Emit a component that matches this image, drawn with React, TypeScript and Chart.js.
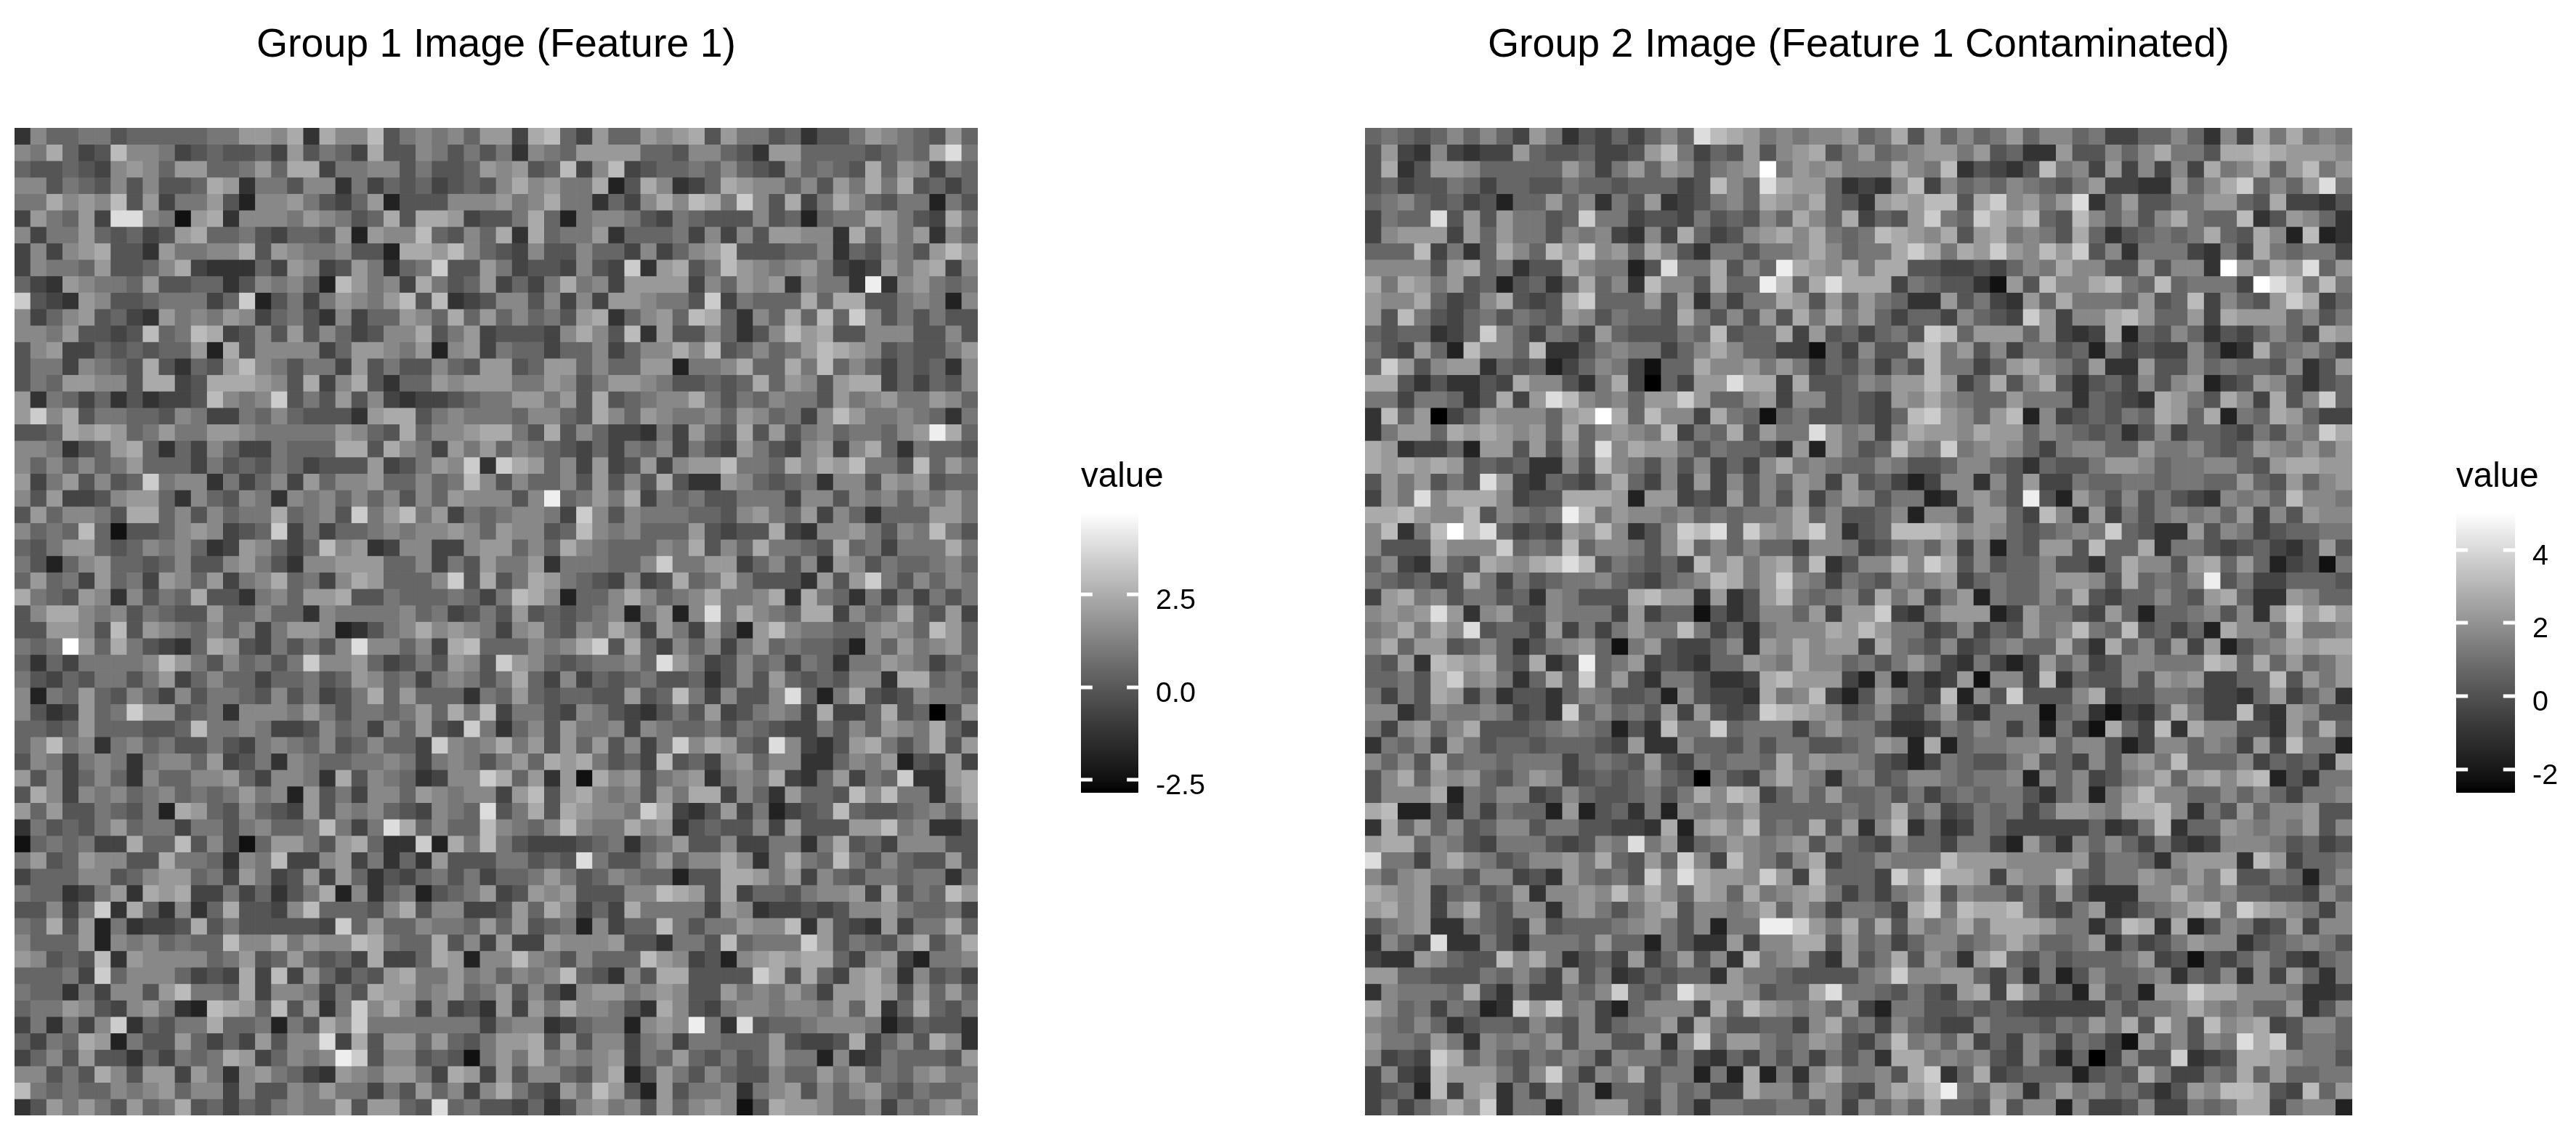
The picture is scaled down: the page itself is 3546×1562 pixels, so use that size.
import React, { useEffect, useRef } from "react";
import { Chart, registerables } from "chart.js";

Chart.register(...registerables);

// Grey level per cell: one hex digit, 0 = black, f = white.
const group1TopLeft = [
"38667756666677998a3a88b5787869","87a645b887456556495764a5587575","65565489869966796aa47788575569","885765858556a93775883746564565","77a898b59477952889754692555888","497694dd8719a3888798756a5aa945",
"84779656459a6675466592988b6586","48489a55397788a598778552aa9b86","4877695568a433364984597367c559","64398776955663587862b9784a7569","c5439855677746c257479879b5b345","846895643978798467538466986a69",
"88795545b67ba458595864588a5794","5894465656692a5888846998792894","57748765a53659b875774957558659","57699885aa45aaa985a48a53669899","937646353445b878c5759584344567","9c8a5776658744768655539aa57877",
"556a9a967977998777779865a6889a","8873569a636486447666aa5a874979","8686867966647565764555945798c3","94795856c7883746849688966867b8","859445899638658738786868586988","5968875aa6858677a6785c79b79476",
"8676b61556898456c4746678788986","6579965687863498646b8934884489","752689665685589753889996684759","6967496749869478a6748a96668c5a","a7659838576a55378699a557666764","58aa87857655966866387777867457",
];
const group1TopRight = [
"94ab64966989a59775635579876596","738769999665886539966665676ad7","8956b48b456676865486765a698476","8a8977a25a8346a98868597a7a5646","978a773648a8ba7c85a47a86577275","57a62788754765558562677a9754a7",
"a3a6779366674848599883a6979386","54855866484689b5556683658759b9","74554854c39a57b987897434979a48","4647a784999948698938773e389767","8858484998775c47666a6aa5578728","686759a36896ba6386a6b6c8575755",
"55548a85b395586358b9a558885585","76646684688a8b568679ba98565579","956996866992778a66a7b686465638","9779857998755656a69859aa464658","799795a56788a75768775978977986","768865a86987786986748b97787637",
"a75a58644374965a59578677689ea6","68765464768475497548948a637665","ca968494594899b776a8a9b775b697","5866859585a5339865673885989566","858e6797a476755777488587868797","78874c858777665897694863666997",
"98856b87866695455a438897587b75","9686a8766687a586a7765a674777a7","7793777668c7799468583985766786","57a97654845a67a75553959c758687","7ba82668a8678a778a3a7637474757","5956567827928d7a876aa4867a6594",
];
const group1BottomLeft = [
"559985b598768684799823578a8987","767f96a75436a95475758d88684ab6","636477778b97586757c88964575985","754657757946866466756986747875","8276965864857765857457a6966637","8534967c9956738887975776796a7b",
"66569666556b7787445867486954c7","68b78378675575478768568664c878","587478737886945738766778747875","95846863866889648873a58763488c","5a8487867867679782957488698788","9695576572a965865495878654876d",
"3756579677477578667b747da6866b","1676744a66b5851699759a633c2a7b","795698855a776387b4489473639555","466688568996749745949635467574","76634793a9a44746357a2836725679","55847c3a63836a5548b66658a58844",
"76a59273445a57555554c696687769","8666928786766b88a7988ba766a584","98565b3988886795696564a446a928","66674c68886454a4b4964659a77978","7663748859b776a4887475a9978967","677985489732ba96b5937c8a848453",
"473748c36577a667275a8c77777774","6476a92755964649588d4a59969657","4685955364767a946878ec58856517","88575a859949738976439879974a94","b76766878968848558797747596848","3597975967a564657877a59965d675",
];
const group1BottomRight = [
"4896587a849749629b877668986b96","66878ac5a648684796766528697896","c986567786d9745867476377987467","7a64846567556358596565883aa675","69656655956b748558d627a5458776","47754875435759457874a446a56059",
"368597784876675765447586987a64","a7959695847c8a965d84359a757a59","796a9a7564b5648968833687925494","a69391a8957893787a4369476c339a","49b59a878597aa48639665b8b7738a","57a5a9887ca4359472456b65567869",
"8768b877a893565584955599b78335","754445673679558447737a56488855","77565d75579688a837a76b75865595","66797568766255aa97948657767737","4598955588ba95a466578894a576b9","596a8464a777749834454588976674",
"6956728466b7577988b395439477a6","94498889553775b6777c957658a57a","8b8758666b9845289a9aa648942778","6878b65385aa5555ca5a649a838564","95853899789855978797499a959696","9497a88753a854788788796a36a657",
"788346772898e73d56678887246553","99a5958847847766695445a4685a83","97a787894769657569772834766659","9588658a2597586558669796768977","a75497b95295778378958689657668","54635897859689815a998668476897",
];
const group2TopLeft = [
"67656868649735464686dba9787889","594384344965564459b74659589a57","5a3599866666974796985789f79897","564557646655766566645b86da9963","678656452669683759345786a98a65","4766d59597756c774554756586a86a",
"4899949697758784384a64589a8a76","666b4736a86b9c896a853775778a86","888859a67355a87725d77a586ea98a","a7a9795625636a683b885a66eb6ada","988a6458a545ac66695937477a9596","95b7546757659857665a758595a7a7",
"6566346c8647649655576b566a4956","754962b886b3357877468a86644164","6c958993656246874166a889797465","aa5353354a88537a406499daa4a556","77477635a49db878699c9668948856","3b69046988869afa6b884a76167556",
"37996a9a9896a68987b476a5977d97","a9344629959596d8a9975766539297","a9a9a956563385b8758584648a7876","5979575d9436547a64849485869849","497d8aaa8455aaa929945495859479","aab988b58767eb798878676778a685",
"8b37bfbd645498b8358cbd6c98ac83","8555a888c676b688758b6868664887","6843965a98abdb576564b8a79a6b35","765645a74756778654678ba79c8747","49a7857756387555ab9939359b7678","8989d9389558777494661535886949",
];
const group2TopRight = [
"67a596867968867446686384a7a787","967899795633955868a775aaba9998","77a87b35435b784948484a78a69b79","438b486768765794433968ac6869d7","39a9bb5ac8979d36955779965a4435","4659c76ca9b65b86858a766b359863",
"7ba98a59a7875a6356767a65a82b23","77aca7a9c98b9c5837774374a76774","7aa554454687a885595883f97a9d69","aa476553195b88ab76b67774fdb7b7","976339574396a7776956b48659ca46","9646648654c9488ab96694a9996857",
"4675cb699969434a265863546864a9","855ab7958477562745448523a67864","7475b77469a8759339558676658359","8799b946a58a535648589245985356","5498a8766977736543a975a84a58c6","546bc9869b28456576a96a276a9644",
"848a998a99687656358466547587ca","56b87c789864788669778656987979","68755688653655799867788659aa99","564248838594476677677669659689","8577238975e529758575438786b887","56828859964b839475787869485988",
"56bbba898656787c65339587456677","45786948265995b66a377545643595","88b8ca5856685536a8859a69624517","6587894676689985a6768e57446665","5a79479276686a54668659a6339866","9c437999249775496266785839c9b9",
];
const group2BottomLeft = [
"78a7a8d566494747977b74637888a9","8a699568635789617954468398a899","6593ba9a65a35e679454366987a886","6675ac89736a6c6953775334ab9994","7475a9473553687556285443a78b42","883587787453c68675949545cba985",
"748968a55567876253b77c67774797","376849756656665493386657577556","8685a67767774676595476776a7988","58a6989657984565686507548a8737","5888a276884586556757a8ba468696","ab2263747662925637287879666667",
"3a6968568857755443a29a8b676a59","9aa6875477754587d7936798789586","d7748a87568897a6596c84b8758a46","86897758845397675c8da998c94b66","a98946756938898b8a86a96a789a74","9a8948a65883897579a58878a69747",
"578933765495666789758277eec97a","3864d337537776966275339488aa59","43398655b8a735649469583b789539","996655576864957346566397765555","387776a53744768c657da998566ad7","a86747623c9c784268884a6b987869",
"87686356658658467794a7556648a6","97769738787958855938c699767985","8454ca686576874877574364757475","4843b999758c7487a577272a2738a7","4562b49a374868266586744a885985","47468a8c3772689964863776677584",
];
const group2BottomRight = [
"b977458465978b76b56462a886b778","4a7658457866a63a6859492578a9aa","757974374249684588777ba6a69679","28253491884b3655859894466b5979","59754b285c5558a455776443694683","6844794377716731436a744b439855",
"753347687472741a64b3a8855396a6","7982a267788968852488687494b772","7542476557956485897b666846563a","856887677828684578a69a8ab25377","67574676775368279b886686864778","67a6845767469987aab83759688955",
"38b363476444446347b36698787958","548664774296386864743488875645","68777b999888895776389993b94667","64c9daa94988b657798797b5576268","6478b58775759533388a8786655486","764ac7baab7547934678ab7ca98748",
"6a5978a7aaa97736ba3a2587459488","674688678a86679364579883567875","57a59739b657566679451546864367","78c889964737258667836583849637","7657549a4b8562956299caa8887334","42775565654444475778a878669358",
"7486544866657697a5b85b89a45886","47b78694648747641968587dac5776","73aa787854852604855c345aa98775","785ac36a456662565a74476a696677","48a9be7698379786753598bba54b69","8686a665a58828445844767aa47882",
];

const group1Title = "Group 1 Image (Feature 1)";
const group2Title = "Group 2 Image (Feature 1 Contaminated)";
const legendTitle = "value";
const group1Range = [-2.85, 4.72];
const group2Range = [-2.64, 5.03];
const group1Ticks = [-2.5, 0, 2.5];
const group2Ticks = [-2, 0, 2, 4];
const group1TickLabels = ["-2.5", "0.0", "2.5"];
const group2TickLabels = ["-2", "0", "2", "4"];

const FONT = "'Liberation Sans', Arial, sans-serif";
const SIZE = 60;

function joinQuadrants(a: string[], b: string[], c: string[], d: string[]): string[] {
  return [...a.map((r, i) => r + b[i]), ...c.map((r, i) => r + d[i])];
}
const group1Rows = joinQuadrants(group1TopLeft, group1TopRight, group1BottomLeft, group1BottomRight);
const group2Rows = joinQuadrants(group2TopLeft, group2TopRight, group2BottomLeft, group2BottomRight);

function lstarFromGrey(g: number): number {
  const c = g / 255;
  const lin = c <= 0.04045 ? c / 12.92 : Math.pow((c + 0.055) / 1.055, 2.4);
  return lin > 0.008856 ? 116 * Math.cbrt(lin) - 16 : 903.3 * lin;
}
function greyFromLstar(L: number): number {
  const lin = L > 8 ? Math.pow((L + 16) / 116, 3) : L / 903.3;
  const c = lin <= 0.0031308 ? lin * 12.92 : 1.055 * Math.pow(lin, 1 / 2.4) - 0.055;
  return Math.max(0, Math.min(255, Math.round(c * 255)));
}
function fillFor(value: number, range: number[]): string {
  const t = (value - range[0]) / (range[1] - range[0]);
  const g = greyFromLstar(t * 100);
  return `rgb(${g},${g},${g})`;
}
function valueFromLevel(ch: string, range: number[]): number {
  return range[0] + (range[1] - range[0]) * (lstarFromGrey(parseInt(ch, 16) * 17) / 100);
}

function Heat({ rows, title, range, left, width, height }: any) {
  const ref = useRef<HTMLCanvasElement | null>(null);
  useEffect(() => {
    const labels = Array.from({ length: SIZE }, (_, i) => String(i + 1));
    const datasets = rows.map((row: string, r: number) => ({
      data: labels.map(() => [r, r + 1]),
      backgroundColor: labels.map((_, c) => fillFor(valueFromLevel(row[c], range), range)),
      borderWidth: 0,
      borderSkipped: false,
      grouped: false,
      categoryPercentage: 1,
      barPercentage: 1,
    }));
    const chart = new Chart(ref.current as HTMLCanvasElement, {
      type: "bar",
      data: { labels, datasets },
      options: {
        animation: false,
        responsive: false,
        devicePixelRatio: 1,
        layout: { padding: 0 },
        events: [],
        scales: {
          x: { display: false },
          y: { display: false, min: 0, max: SIZE, reverse: true },
        },
        plugins: {
          legend: { display: false },
          tooltip: { enabled: false },
          title: {
            display: true,
            text: title,
            color: "#000",
            font: { family: FONT, size: 55.5, weight: "normal", lineHeight: 1.2 },
            padding: { top: 29, bottom: 80.4 },
          },
        },
      },
    } as any);
    return () => chart.destroy();
  }, []);
  return (
    <canvas
      ref={ref}
      width={width}
      height={height}
      style={{ position: "absolute", left, top: 0, width, height, display: "block" }}
    />
  );
}

const whiteTicks = {
  id: "whiteTicks",
  afterDatasetsDraw(chart: any) {
    const { ctx, chartArea, scales } = chart;
    const w = chartArea.right - chartArea.left;
    const len = w * 0.2;
    ctx.save();
    ctx.fillStyle = "#fff";
    for (const t of scales.y.ticks) {
      const y = Math.round(scales.y.getPixelForValue(t.value));
      ctx.fillRect(chartArea.left, y - 2.5, len, 5);
      ctx.fillRect(chartArea.right - len, y - 2.5, len, 5);
    }
    ctx.restore();
  },
};

function Bar({ range, ticks, tickLabels, left, barWidth, labelWidth }: any) {
  const ref = useRef<HTMLCanvasElement | null>(null);
  useEffect(() => {
    const chart = new Chart(ref.current as HTMLCanvasElement, {
      type: "bar",
      data: {
        labels: [legendTitle],
        datasets: [
          {
            data: [range],
            borderWidth: 0,
            borderSkipped: false,
            categoryPercentage: 1,
            barPercentage: 1,
            backgroundColor: (c: any) => {
              const a = c.chart.chartArea;
              if (!a) return "#000";
              const g = c.chart.ctx.createLinearGradient(0, a.bottom, 0, a.top);
              for (let i = 0; i <= 20; i++) {
                const v = range[0] + ((range[1] - range[0]) * i) / 20;
                g.addColorStop(i / 20, fillFor(v, range));
              }
              return g;
            },
          },
        ],
      },
      options: {
        animation: false,
        responsive: false,
        devicePixelRatio: 1,
        events: [],
        layout: { padding: { bottom: 30 } },
        scales: {
          x: { display: false },
          y: {
            position: "right",
            min: range[0],
            max: range[1],
            grid: { display: false, drawTicks: false },
            border: { display: false },
            afterBuildTicks: (s: any) => {
              s.ticks = ticks.map((value: number) => ({ value }));
            },
            afterFit: (s: any) => {
              s.width = labelWidth;
              s.paddingTop = 0;
              s.paddingBottom = 0;
            },
            ticks: {
              autoSkip: false,
              padding: 24,
              labelOffset: 9,
              color: "#000",
              font: { family: FONT, size: 39.5 },
              callback: (v: number) => tickLabels[ticks.indexOf(v)],
            },
          },
        },
        plugins: {
          legend: { display: false },
          tooltip: { enabled: false },
          title: {
            display: true,
            text: legendTitle,
            align: "start",
            color: "#000",
            font: { family: FONT, size: 47.5, weight: "normal", lineHeight: 1.2 },
            padding: { top: 8, bottom: 20 },
          },
        },
      },
      plugins: [whiteTicks],
    } as any);
    return () => chart.destroy();
  }, []);
  const width = barWidth + labelWidth;
  return (
    <canvas
      ref={ref}
      width={width}
      height={501}
      style={{ position: "absolute", left, top: 620, width, height: 501, display: "block" }}
    />
  );
}

export default function App() {
  return (
    <div style={{ position: "absolute", left: 0, top: 0, width: 3546, height: 1562, overflow: "hidden", background: "#fff" }}>
      <Heat rows={group1Rows} title={group1Title} range={group1Range} left={20} width={1326} height={1535} />
      <Bar range={group1Range} ticks={group1Ticks} tickLabels={group1TickLabels} left={1488} barWidth={79} labelWidth={140} />
      <Heat rows={group2Rows} title={group2Title} range={group2Range} left={1879} width={1359} height={1535} />
      <Bar range={group2Range} ticks={group2Ticks} tickLabels={group2TickLabels} left={3381} barWidth={81} labelWidth={84} />
    </div>
  );
}
